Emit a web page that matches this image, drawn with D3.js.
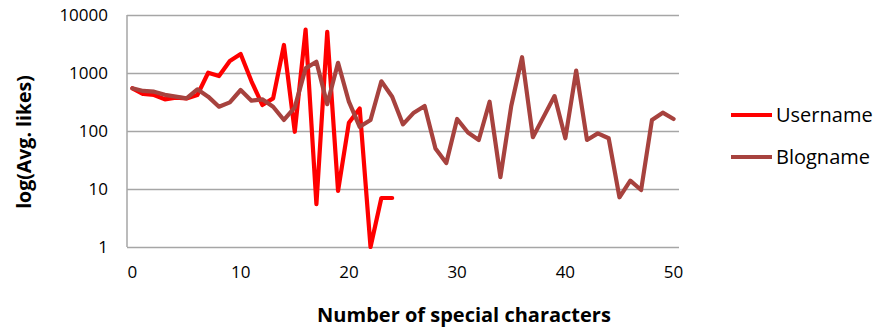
<!DOCTYPE html>
<html><head><meta charset="utf-8">
<script src="https://cdn.jsdelivr.net/npm/d3@7"></script>
<style>
html,body{margin:0;padding:0;background:#fff;}
svg text{font-family:"Open Sans",Lato,sans-serif;fill:#000;}
</style></head>
<body><svg id="c" width="878" height="331"></svg>
<script>
const categories = d3.range(0, 51);
const xTickLabels = [0, 10, 20, 30, 40, 50];
const yTickLabels = [1, 10, 100, 1000, 10000];
const username = [545, 434, 417, 352, 375, 365, 417, 1010, 887, 1610, 2130, 720, 281, 365, 3040, 97, 5600, 5.5, 5100, 9.3, 139, 245, 1, 7, 7];
const blogname = [545, 490, 476, 420, 391, 365, 523, 391, 262, 312, 509, 333, 352, 262, 155, 255, 1200, 1560, 290, 1500, 320, 118, 155, 720, 390, 130, 207, 270, 50, 28, 161, 94, 70, 320, 16, 270, 1870, 78, 177, 400, 75, 1100, 70, 91, 75, 7.2, 13.9, 9.6, 155, 207, 161];
const seriesNames = ["Username", "Blogname"];
const seriesColors = ["#FF0000", "#A7423E"];

const svg = d3.select("#c");
const L = 127, R = 679, T = 15, B = 247;
const x = d3.scaleBand().domain(categories).range([L, R]);
const cx = d => x(d) + x.bandwidth() / 2;
const y = d3.scaleLog().domain([1, 10000]).range([B, T]);

// gridlines
svg.append("g").attr("transform", `translate(${L},0)`)
  .call(d3.axisLeft(y).tickValues(yTickLabels).tickSize(-(R - L)).tickFormat(""))
  .call(g => g.select(".domain").remove())
  .call(g => g.selectAll("line").attr("stroke", "#A6A6A6").attr("stroke-width", 1.5));
svg.append("line").attr("x1", L).attr("x2", L).attr("y1", T).attr("y2", B)
  .attr("stroke", "#A6A6A6").attr("stroke-width", 1.5);

// y tick labels
svg.append("g").attr("transform", `translate(${L - 19},0)`)
  .call(d3.axisLeft(y).tickValues(yTickLabels).tickSize(0).tickPadding(0).tickFormat(d3.format("d")))
  .call(g => g.select(".domain").remove())
  .call(g => g.selectAll("text").attr("font-size", 17).attr("font-family", "Open Sans").attr("dy", "0.35em"));

// x tick labels
svg.append("g").attr("transform", `translate(0,${B + 19})`)
  .call(d3.axisBottom(x).tickValues(xTickLabels).tickSize(0).tickPadding(0))
  .call(g => g.select(".domain").remove())
  .call(g => g.selectAll("text").attr("font-size", 17).attr("font-family", "Open Sans"));

// lines
const line = d3.line().x((d, i) => cx(categories[i])).y(d => y(d));
[username, blogname].forEach((s, k) => {
  svg.append("path").datum(s).attr("d", line).attr("fill", "none")
    .attr("stroke", seriesColors[k]).attr("stroke-width", 4.2)
    .attr("stroke-linejoin", "round").attr("stroke-linecap", "round");
});

// axis titles
svg.append("text").attr("x", 464).attr("y", 322).attr("text-anchor", "middle")
  .attr("font-size", 20).attr("font-weight", "bold").text("Number of special characters");
svg.append("text").attr("transform", "translate(31,142) rotate(-90)").attr("text-anchor", "middle")
  .attr("font-size", 19.5).attr("font-weight", "bold").text("log(Avg. likes)");

// legend
const legY = [115, 157];
seriesNames.forEach((n, k) => {
  svg.append("line").attr("x1", 731).attr("x2", 772).attr("y1", legY[k]).attr("y2", legY[k])
    .attr("stroke", seriesColors[k]).attr("stroke-width", 4.2);
  svg.append("text").attr("x", 776).attr("y", legY[k] + 7)
    .attr("font-size", 20).text(n);
});
</script></body></html>
